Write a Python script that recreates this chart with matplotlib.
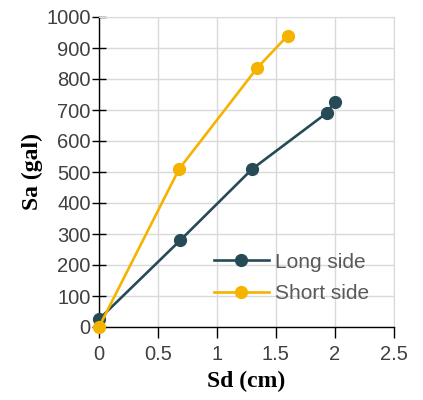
import matplotlib.pyplot as plt

# Capacity curve data
long_sd = [0.0, 0.69, 1.30, 1.93, 2.00]
long_sa = [25, 280, 510, 690, 725]
short_sd = [0.0, 0.68, 1.34, 1.60]
short_sa = [0, 510, 835, 940]

x_ticks = [0, 0.5, 1, 1.5, 2, 2.5]
x_labels = ['0', '0.5', '1', '1.5', '2', '2.5']
y_ticks = list(range(0, 1001, 100))

long_color = '#264b57'
short_color = '#f5b300'

fig = plt.figure(figsize=(4.23, 4.0), dpi=100)
ax = fig.add_axes([0.234, 0.1825, 0.697, 0.775])

ax.plot(long_sd, long_sa, '-o', color=long_color, lw=1.9, markersize=8.5,
        label='Long side', zorder=3, clip_on=False)
ax.plot(short_sd, short_sa, '-o', color=short_color, lw=1.9, markersize=8.5,
        label='Short side', zorder=4, clip_on=False)

ax.set_xlim(0, 2.5)
ax.set_ylim(0, 1000)
ax.set_xticks(x_ticks)
ax.set_xticklabels(x_labels)
ax.set_yticks(y_ticks)
ax.grid(True, color='#d9d9d9', lw=1)
ax.set_axisbelow(True)

for side in ['top', 'right']:
    ax.spines[side].set_color('#d9d9d9')
for side in ['left', 'bottom']:
    ax.spines[side].set_color('black')
    ax.spines[side].set_linewidth(1)

ax.tick_params(axis='x', direction='out', length=8, width=1, colors='black', labelcolor='#404040', pad=5)
ax.tick_params(axis='y', direction='inout', length=10, width=1, colors='black', labelcolor='#404040', pad=1)
for lbl in ax.get_xticklabels() + ax.get_yticklabels():
    lbl.set_fontfamily('Liberation Sans')
    lbl.set_fontsize(14.5)

ax.set_xlabel('Sd (cm)', fontfamily='Liberation Serif', fontweight='bold', fontsize=17, labelpad=5)
ax.set_ylabel('Sa (gal)', fontfamily='Liberation Serif', fontweight='bold', fontsize=17, labelpad=2)

leg = ax.legend(loc='lower right', bbox_to_anchor=(0.965, 0.03), frameon=False,
                prop={'family': 'Liberation Sans', 'size': 15}, handlelength=2.6,
                handletextpad=0.3, labelspacing=0.6, borderpad=0.2)
for t in leg.get_texts():
    t.set_color('#595959')

plt.savefig('out.png', dpi=100)
